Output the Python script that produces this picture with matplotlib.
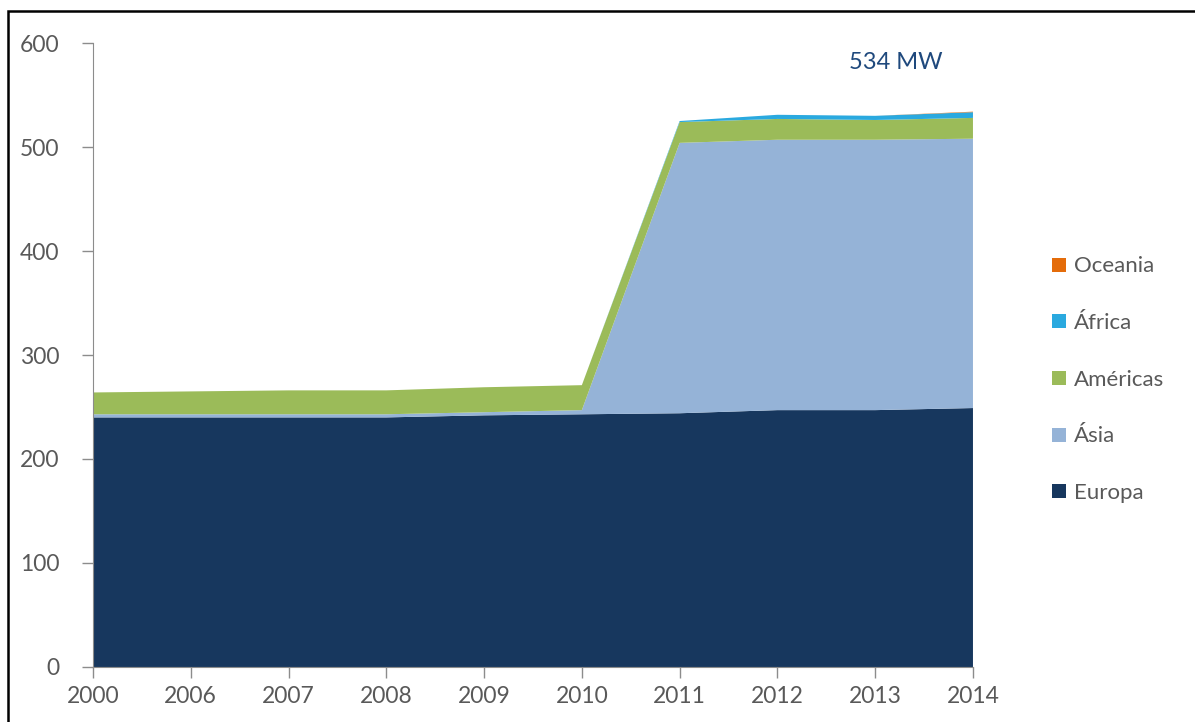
import numpy as np
import matplotlib
matplotlib.use("Agg")
import matplotlib.pyplot as plt
from matplotlib.patches import Rectangle, Patch

plt.rcParams['font.family'] = ['Lato', 'DejaVu Sans']

# dados (MW)
anos = ['2000', '2006', '2007', '2008', '2009', '2010', '2011', '2012', '2013', '2014']
europa = [240, 240, 240, 240, 242, 243, 244, 247, 247, 249]
asia = [3, 3, 3, 3, 3, 4, 260, 260, 260, 259]
americas = [21, 22, 23, 23, 24, 24, 20, 20, 19, 20]
africa = [0, 0, 0, 0, 0, 0, 1, 4, 4, 5.5]
oceania = [0, 0, 0, 0, 0, 0, 0, 0, 0, 0.5]

nomes = ['Europa', 'Ásia', 'Américas', 'África', 'Oceania']
cores = ['#17375E', '#95B3D7', '#9BBB59', '#2AA9DF', '#E46C0A']

fig = plt.figure(figsize=(11.95, 7.22), dpi=100)
ax = fig.add_axes([0.0778, 0.0762, 0.7364, 0.8642])

x = np.arange(len(anos))
ax.stackplot(x, europa, asia, americas, africa, oceania, colors=cores, linewidth=0)

ax.set_xlim(0, len(anos) - 1)
ax.set_ylim(0, 600)
ax.set_xticks(x)
ax.set_xticklabels(anos)
ax.set_yticks(range(0, 601, 100))

for s in ['top', 'right']:
    ax.spines[s].set_visible(False)
ax.spines['left'].set_color('#8C8C8C')
ax.spines['bottom'].set_color('#8C8C8C')
ax.tick_params(axis='both', colors='#8C8C8C', length=8, width=1, labelsize=16.5,
               labelcolor='#595959')
ax.tick_params(axis='x', pad=6)
ax.tick_params(axis='y', pad=16)

ax.text(0.965, 0.985, '534 MW', transform=ax.transAxes, ha='right', va='top',
        fontsize=17, color='#1F497D')

# legenda (ordem invertida)
handles = [Patch(facecolor=c, edgecolor='none') for c in cores][::-1]
fig.legend(handles, nomes[::-1], loc='center left', bbox_to_anchor=(0.864, 0.474),
           frameon=False, fontsize=16, handlelength=0.6, handleheight=0.6,
           handletextpad=0.35, labelspacing=1.65, labelcolor='#595959')

# moldura
fig.patches.append(Rectangle((8 / 1195, -0.05), 1.1, 0.985 + 0.05, transform=fig.transFigure,
                             fill=False, edgecolor='black', linewidth=1.8))

fig.savefig('out.png', dpi=100)
